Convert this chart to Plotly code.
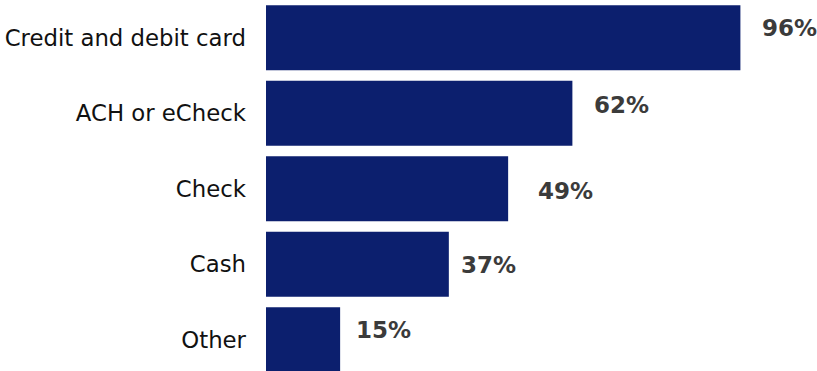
import plotly.graph_objects as go

# Payment methods accepted (share of respondents, %)
methods = ["Credit and debit card", "ACH or eCheck", "Check", "Cash", "Other"]
shares = [96, 62, 49, 37, 15]

# Per-label nudges (px) for the percentage call-outs
label_dx = [20, 20, 28, 10, 14]
label_dy = [10, 8, -2, -1, 10]

BAR_COLOR = "#0c1f6e"
LABEL_COLOR = "#3b3b3b"

fig = go.Figure(
    go.Bar(
        x=shares,
        y=methods,
        orientation="h",
        marker=dict(color=BAR_COLOR, line=dict(width=0)),
        hoverinfo="skip",
    )
)

for m, v, dx, dy in zip(methods, shares, label_dx, label_dy):
    fig.add_annotation(
        x=v, y=m, xref="x", yref="y",
        text=f"<b>{v}%</b>",
        showarrow=False,
        xanchor="left", yanchor="middle",
        xshift=dx, yshift=dy,
        font=dict(family="DejaVu Sans", size=23, color=LABEL_COLOR),
    )

fig.update_layout(
    width=817, height=371,
    margin=dict(l=266, r=0, t=0, b=0),
    paper_bgcolor="white", plot_bgcolor="white",
    bargap=0.14,
    showlegend=False,
    xaxis=dict(range=[0, 111.5], visible=False, fixedrange=True),
    yaxis=dict(
        type="category",
        categoryorder="array", categoryarray=methods,
        range=[4.414, -0.5],
        showgrid=False, zeroline=False, showline=False,
        ticks="", ticklabelstandoff=19,
        tickfont=dict(family="DejaVu Sans", size=22.8, color="#111111"),
        fixedrange=True,
    ),
)

fig.write_html("out.html")
